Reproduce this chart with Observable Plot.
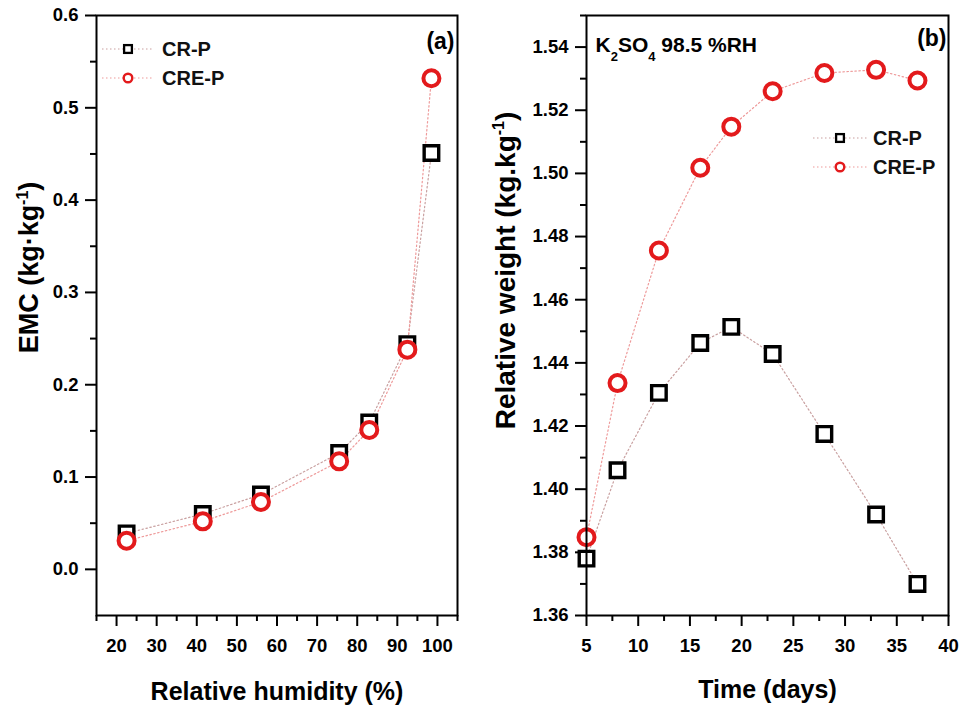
<!DOCTYPE html>
<html><head><meta charset="utf-8">
<script src="https://cdn.jsdelivr.net/npm/d3@7"></script>
<script src="https://cdn.jsdelivr.net/npm/@observablehq/plot@0.6"></script>
<style>
body{margin:0;background:#fff;font-family:"Liberation Sans",Arial,sans-serif;}
#wrap{position:relative;width:961px;height:707px;overflow:hidden;}
#wrap > svg{position:absolute;top:0;}
.lrow{position:absolute;display:flex;align-items:center;height:20px;white-space:nowrap;font-weight:bold;font-size:20px;line-height:20px;color:#111;}
.lrow svg{display:block;}
</style></head><body><div id="wrap"></div><script>
// ---------- data ----------
const seriesNames = ["CR-P", "CRE-P"];
// panel (a): EMC vs relative humidity
const rhCR   = [22.5, 41.5, 56, 75.5, 83, 92.5, 98.5];
const emcCR  = [0.039, 0.060, 0.081, 0.126, 0.159, 0.244, 0.451];
const rhCRE  = [22.5, 41.5, 56, 75.5, 83, 92.5, 98.5];
const emcCRE = [0.031, 0.052, 0.073, 0.117, 0.151, 0.238, 0.532];
// panel (b): relative weight vs time
const daysCR    = [5, 8, 12, 16, 19, 23, 28, 33, 37];
const weightCR  = [1.378, 1.406, 1.4305, 1.4463, 1.4514, 1.4428, 1.4175, 1.392, 1.370];
const daysCRE   = [5, 8, 12, 16, 19, 23, 28, 33, 37];
const weightCRE = [1.3848, 1.4336, 1.4756, 1.5018, 1.5148, 1.5260, 1.5318, 1.5328, 1.5294];
// ticks
const xTicksA = [20, 30, 40, 50, 60, 70, 80, 90, 100];
const xMinorA = [15, 25, 35, 45, 55, 65, 75, 85, 95, 105];
const yTicksA = [0, 0.1, 0.2, 0.3, 0.4, 0.5, 0.6];
const yMinorA = [0.05, 0.15, 0.25, 0.35, 0.45, 0.55];
const xTicksB = [5, 10, 15, 20, 25, 30, 35, 40];
const xMinorB = [7.5, 12.5, 17.5, 22.5, 27.5, 32.5, 37.5];
const yTicksB = [1.36, 1.38, 1.40, 1.42, 1.44, 1.46, 1.48, 1.50, 1.52, 1.54];
const yMinorB = [1.37, 1.39, 1.41, 1.43, 1.45, 1.47, 1.49, 1.51, 1.53, 1.55];
// texts
const xTitleA = "Relative humidity (%)";
const yTitleA = "EMC (kg·kg-1)";
const xTitleB = "Time (days)";
const yTitleB = "Relative weight (kg.kg-1)";
const panelA = "(a)";
const panelB = "(b)";
const noteB = "K2SO4 98.5 %RH";

// ---------- styles ----------
const RED = "#e31a1c";
const FONT = '"Liberation Sans", Arial, sans-serif';
const lineCR = "#c9a0a0", lineCRE = "#ee9a9a";

const toRows = (xs, ys) => xs.map((x, i) => ({x, y: ys[i]}));
const A_CR = toRows(rhCR, emcCR), A_CRE = toRows(rhCRE, emcCRE);
const B_CR = toRows(daysCR, weightCR), B_CRE = toRows(daysCRE, weightCRE);

function axisMarks(xt, xm, yt, ym, yfmt) {
  const common = {fontSize: 18.5, fontWeight: "bold", strokeWidth: 2, label: null};
  return [
    Plot.axisX(xt, {...common, tickSize: 11, tickPadding: 12}),
    Plot.axisX(xm, {...common, tickSize: 6, tickFormat: () => ""}),
    Plot.axisY(yt, {...common, tickSize: 11, tickPadding: 7, tickFormat: yfmt}),
    Plot.axisY(ym, {...common, tickSize: 6, tickFormat: () => ""})
  ];
}
function seriesMarks(cr, cre) {
  return [
    Plot.line(cr, {x: "x", y: "y", stroke: lineCR, strokeWidth: 1.2, strokeDasharray: "1.5,2.5"}),
    Plot.line(cre, {x: "x", y: "y", stroke: lineCRE, strokeWidth: 1.2, strokeDasharray: "1.5,2.5"}),
    Plot.dot(cr, {x: "x", y: "y", symbol: "square", r: 8.2, stroke: "black", strokeWidth: 3.4, fill: "white"}),
    Plot.dot(cre, {x: "x", y: "y", symbol: "circle", r: 8, stroke: RED, strokeWidth: 4, fill: "white"})
  ];
}

const plotA = Plot.plot({
  width: 480, height: 707,
  marginLeft: 96, marginRight: 23, marginTop: 15, marginBottom: 92,
  style: {fontFamily: FONT, background: "white", overflow: "visible"},
  x: {domain: [15, 105]},
  y: {domain: [-0.05, 0.6]},
  marks: [
    ...axisMarks(xTicksA, xMinorA, yTicksA, yMinorA, d3.format(".1f")),
    ...seriesMarks(A_CR, A_CRE),
    Plot.frame({stroke: "black", strokeWidth: 2}),
    Plot.text([panelA], {text: d => d, frameAnchor: "top-right", dx: -3, dy: 17, lineAnchor: "top", fontSize: 23, fontWeight: "bold"}),
    Plot.text([xTitleA], {text: d => d, frameAnchor: "bottom", dy: 84, lineAnchor: "bottom", fontSize: 25, fontWeight: "bold"}),
    Plot.text([yTitleA], {text: d => d, frameAnchor: "left", textAnchor: "middle", dx: -67, dy: -48, rotate: -90, lineAnchor: "middle", fontSize: 27, fontWeight: "bold"})
  ]
});

const plotB = Plot.plot({
  width: 481, height: 707,
  marginLeft: 106, marginRight: 13, marginTop: 15, marginBottom: 92,
  style: {fontFamily: FONT, background: "white", overflow: "visible"},
  x: {domain: [5, 40]},
  y: {domain: [1.36, 1.55]},
  marks: [
    ...axisMarks(xTicksB, xMinorB, yTicksB, yMinorB, d3.format(".2f")),
    ...seriesMarks(B_CR, B_CRE),
    Plot.frame({stroke: "black", strokeWidth: 2}),
    Plot.text([panelB], {text: d => d, frameAnchor: "top-right", dx: -2, dy: 14, lineAnchor: "top", fontSize: 23, fontWeight: "bold"}),
    Plot.text([noteB], {text: d => d, frameAnchor: "top-left", dx: 9, dy: 22, lineAnchor: "top", fontSize: 21, fontWeight: "bold"}),
    Plot.text([xTitleB], {text: d => d, frameAnchor: "bottom", dy: 82, lineAnchor: "bottom", fontSize: 25, fontWeight: "bold"}),
    Plot.text([yTitleB], {text: d => d, frameAnchor: "left", textAnchor: "middle", dx: -80, dy: -45, rotate: -90, lineAnchor: "middle", fontSize: 28, fontWeight: "bold"})
  ]
});

const wrap = document.getElementById("wrap");
plotA.style.left = "0px";
plotB.style.left = "480px";
wrap.appendChild(plotA);
wrap.appendChild(plotB);

// rich text: superscripts and subscripts
function rich(svg) {
  d3.select(svg).selectAll("text").each(function () {
    const t = this.textContent;
    if (t === yTitleA) {
      this.innerHTML = 'EMC (kg·kg<tspan dy="-10" font-size="16">-1</tspan><tspan dy="10">)</tspan>';
    } else if (t === yTitleB) {
      this.innerHTML = 'Relative weight (kg.kg<tspan dy="-11" font-size="16">-1</tspan><tspan dy="11">)</tspan>';
    } else if (t === noteB) {
      this.innerHTML = 'K<tspan dy="9" font-size="13">2</tspan><tspan dy="-9">SO</tspan><tspan dy="9" font-size="13">4</tspan><tspan dy="-9"> 98.5 %RH</tspan>';
    }
  });
}
rich(plotA); rich(plotB);

// legends
function legend(left, textLeft, tops, swW, mx, names) {
  names.forEach((name, i) => {
    const row = document.createElement("div");
    row.className = "lrow";
    row.style.left = left + "px";
    row.style.top = (tops[i] - 10) + "px";
    const s = d3.create("svg").attr("width", swW).attr("height", 20);
    s.append("line").attr("x1", 0).attr("x2", swW).attr("y1", 10).attr("y2", 10)
      .attr("stroke", i === 0 ? lineCR : lineCRE).attr("stroke-width", 1.2).attr("stroke-dasharray", "1.5,2.5");
    if (i === 0) {
      s.append("rect").attr("x", mx - 3.9).attr("y", 10 - 3.9).attr("width", 7.8).attr("height", 7.8)
        .attr("fill", "white").attr("stroke", "black").attr("stroke-width", 2.3);
    } else {
      s.append("circle").attr("cx", mx).attr("cy", 10).attr("r", 4.3)
        .attr("fill", "white").attr("stroke", RED).attr("stroke-width", 2.4);
    }
    row.appendChild(s.node());
    const sp = document.createElement("span");
    sp.textContent = name;
    sp.style.marginLeft = (textLeft - left - swW) + "px";
    row.appendChild(sp);
    wrap.appendChild(row);
  });
}
legend(102, 162, [49, 78], 50, 26, seriesNames);
legend(813, 873, [138, 167], 55, 27, seriesNames);
</script></body></html>
